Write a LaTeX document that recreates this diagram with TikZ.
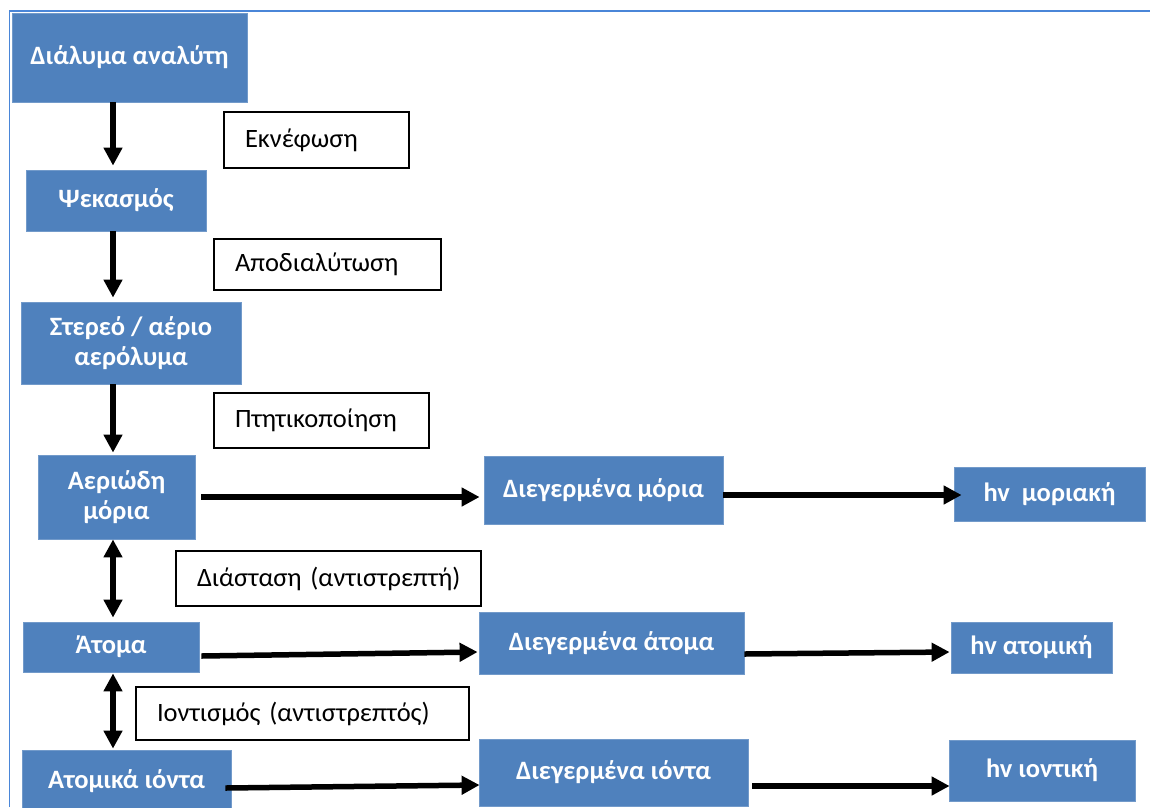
\documentclass[tikz,border=0pt]{standalone}
\usepackage{fontspec}
\setmainfont{Carlito}
\usetikzlibrary{arrows.meta}
\definecolor{boxblue}{HTML}{4F81BD}
\definecolor{frameblue}{HTML}{4A86D8}
\tikzset{
  bbox/.style={fill=boxblue, draw=boxblue!80!white, line width=0.8pt, inner sep=0pt,
    text=white, font=\fontsize{26.5}{30}\selectfont\bfseries, align=center},
  lbox/.style={draw=black, line width=1.6pt, inner ysep=0pt, inner xsep=21pt,
    font=\fontsize{26.5}{30}\selectfont, align=left},
  arr/.style={line width=5.5pt, -{Triangle[length=18pt,width=18pt]}},
  darr/.style={line width=5.5pt, {Triangle[length=18pt,width=18pt]}-{Triangle[length=18pt,width=18pt]}},
}
\begin{document}
\begin{tikzpicture}[x=1pt,y=-1pt]
\useasboundingbox (0,0) rectangle (1150,807);
\clip (0,0) rectangle (1150,807);
\fill[white] (0,0) rectangle (1150,807);
% frame
\coordinate (ftl) at (9.5,11);
\coordinate (ftr) at (1150,11);
\coordinate (fbl) at (9.5,807);
\draw[frameblue, line width=1.8pt] (fbl) -- (ftl) -- (ftr);
% blue boxes
\node[bbox, minimum width=235pt, minimum height=89pt] (b1) at (129.5,57.5) {Διάλυμα αναλύτη};
\node[bbox, minimum width=180pt, minimum height=61pt] (b2) at (116,200.5) {Ψεκασμός};
\node[bbox, minimum width=220pt, minimum height=82pt] (b3) at (131,343) {Στερεό / αέριο\\αερόλυμα};
\node[bbox, minimum width=157pt, minimum height=84pt] (b4) at (116.5,497) {Αεριώδη\\μόρια};
\node[bbox, minimum width=176pt, minimum height=50pt] (b5) at (111,647) {Άτομα};
\node[bbox, minimum width=209pt, minimum height=62pt] (b6) at (126.5,781) {Ατομικά ιόντα};
\node[bbox, minimum width=239pt, minimum height=68pt] (d1) at (603.5,490) {Διεγερμένα μόρια};
\node[bbox, minimum width=265pt, minimum height=62pt] (d2) at (611.5,643) {Διεγερμένα άτομα};
\node[bbox, minimum width=269pt, minimum height=67pt] (d3) at (613.5,772.5) {Διεγερμένα ιόντα};
\node[bbox, minimum width=191pt, minimum height=54pt] (h1) at (1049.5,494) {hv\ \ μοριακή};
\node[bbox, minimum width=161pt, minimum height=51pt] (h2) at (1031.5,647.5) {hv ατομική};
\node[bbox, minimum width=186pt, minimum height=61pt] (h3) at (1042,770.5) {hv ιοντική};
% label boxes
\node[lbox, text width=143pt, minimum height=56pt] (l1) at (316.5,140) {\mbox{Εκνέφωση}};
\node[lbox, text width=185pt, minimum height=51pt] (l2) at (327.5,264.5) {\mbox{Αποδιαλύτωση}};
\node[lbox, text width=173pt, minimum height=55pt] (l3) at (321.5,420.5) {\mbox{Πτητικοποίηση}};
\node[lbox, text width=263pt, minimum height=55pt] (l4) at (328.5,578.5) {\mbox{Διάσταση (αντιστρεπτή)}};
\node[lbox, text width=291pt, minimum height=53pt] (l5) at (302.5,713.5) {\mbox{Ιοντισμός (αντιστρεπτός)}};
% vertical connectors
\coordinate (vx) at (113,0);
\draw[arr] (b1.south -| vx) -- ([yshift=4pt]b2.north -| vx);
\draw[arr] (b2.south -| vx) -- ([yshift=4pt]b3.north -| vx);
\draw[arr] (b3.south -| vx) -- ([yshift=2pt]b4.north -| vx);
\draw[darr] (b4.south -| vx) -- ([yshift=4pt]b5.north -| vx);
\draw[darr] ([yshift=-1pt]b5.south -| vx) -- ([yshift=1pt]b6.north -| vx);
% horizontal connectors
\draw[arr] ([xshift=6pt]b4.east) -- ([xshift=-4pt,yshift=-7pt]d1.west);
\draw[arr] ([yshift=-5pt]d1.east) -- ([xshift=8pt,yshift=-1pt]h1.west);
\draw[arr] ([xshift=2pt,yshift=-9pt]b5.east) -- ([xshift=-1pt,yshift=-9pt]d2.west);
\draw[arr] ([yshift=-11pt]d2.east) -- ([xshift=-1pt,yshift=-4.5pt]h2.west);
\draw[arr] ([xshift=-6pt,yshift=-7pt]b6.east) -- ([xshift=1pt,yshift=-12.5pt]d3.west);
\draw[arr] ([xshift=4pt,yshift=-13.5pt]d3.east) -- ([xshift=1pt,yshift=-15.5pt]h3.west);
\end{tikzpicture}
\end{document}
